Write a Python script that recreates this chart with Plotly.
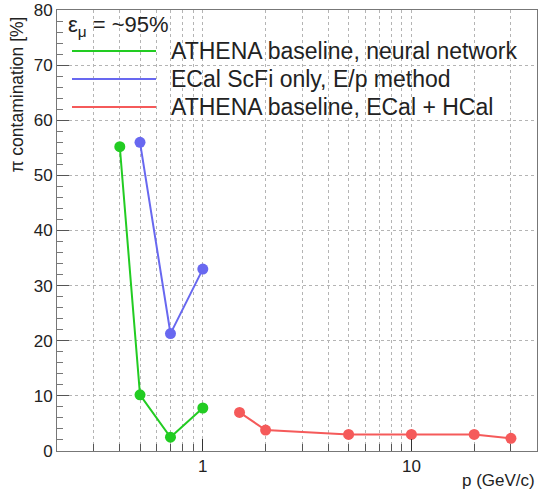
import plotly.graph_objects as go
import math

# Data
nn_p = [0.4, 0.5, 0.7, 1.0]
nn_cont = [55.2, 10.2, 2.5, 7.8]
ep_p = [0.5, 0.7, 1.0]
ep_cont = [56.0, 21.3, 33.0]
eh_p = [1.5, 2.0, 5.0, 10.0, 20.0, 30.0]
eh_cont = [7.0, 3.8, 3.0, 3.0, 3.0, 2.3]

labels = ["ATHENA baseline, neural network",
          "ECal ScFi only, E/p method",
          "ATHENA baseline, ECal + HCal"]
colors = ["#22cc22", "#6868f0", "#f55a5a"]

x_major = [1, 10]
x_minor = [0.2, 0.3, 0.4, 0.5, 0.6, 0.7, 0.8, 0.9, 2, 3, 4, 5, 6, 7, 8, 9, 20, 30]

FONT = "Liberation Sans, Arial, sans-serif"

fig = go.Figure()
for xs, ys, c, name in [(nn_p, nn_cont, colors[0], labels[0]),
                        (ep_p, ep_cont, colors[1], labels[1]),
                        (eh_p, eh_cont, colors[2], labels[2])]:
    fig.add_trace(go.Scatter(x=xs, y=ys, mode="lines+markers", name=name,
                             line=dict(color=c, width=2),
                             marker=dict(color=c, size=11),
                             showlegend=False))

grid = "#b4b4b4"
fig.update_layout(
    width=539, height=491,
    margin=dict(l=57, r=2, t=10, b=40),
    paper_bgcolor="white", plot_bgcolor="white",
    font=dict(family=FONT, color="#222222", size=17),
    xaxis=dict(type="log", range=[math.log10(0.2), math.log10(40)],
               tickmode="array", tickvals=x_major, ticktext=["1", "10"],
               ticks="inside", ticklen=12, tickcolor="#333",
               showgrid=True, gridcolor=grid, griddash="dot", gridwidth=1,
               showline=True, linecolor="#777", mirror=True, linewidth=1,
               tickfont=dict(size=17), zeroline=False,
               minor=dict(tickmode="array", tickvals=x_minor, ticks="inside",
                          ticklen=7, tickcolor="#555", showgrid=True,
                          gridcolor=grid, griddash="dot", gridwidth=1)),
    yaxis=dict(range=[0, 80], tickmode="linear", tick0=0, dtick=10,
               ticks="inside", ticklen=12, tickcolor="#555",
               showgrid=True, gridcolor=grid, griddash="dot", gridwidth=1,
               showline=True, linecolor="#777", mirror=True, linewidth=1,
               tickfont=dict(size=17), zeroline=False,
               minor=dict(dtick=2, ticks="inside", ticklen=6, tickcolor="#777",
                          showgrid=False)),
)

# Axis titles (ROOT-style alignment)
fig.add_annotation(text="π contamination [%]", xref="paper", yref="paper",
                   x=-0.108, y=0.99, xanchor="left", yanchor="top", textangle=-90,
                   showarrow=False, font=dict(size=17.5, family=FONT, color="#222"))
fig.add_annotation(text="p (GeV/c)", xref="paper", yref="paper",
                   x=1.0, y=-0.066, xanchor="right", yanchor="middle",
                   showarrow=False, font=dict(size=17, family=FONT, color="#222"))

# Legend (drawn manually, ROOT-style)
fig.add_annotation(text="ε<sub>μ</sub> = ~95%", xref="paper", yref="paper",
                   x=0.018, y=0.963, xanchor="left", yanchor="middle",
                   showarrow=False, font=dict(size=22, family=FONT, color="#222"))
leg_y = [1 - (51 - 10) / 441, 1 - (79 - 10) / 441, 1 - (107 - 10) / 441]
for lab, c, yy in zip(labels, colors, leg_y):
    fig.add_shape(type="line", xref="paper", yref="paper",
                  x0=(72 - 57) / 480, x1=(156 - 57) / 480, y0=yy, y1=yy,
                  line=dict(color=c, width=2))
    fig.add_annotation(text=lab, xref="paper", yref="paper",
                       x=(169 - 57) / 480, y=yy, xanchor="left", yanchor="middle",
                       showarrow=False, font=dict(size=23, family=FONT, color="#222"))

fig.write_html("out.html")
